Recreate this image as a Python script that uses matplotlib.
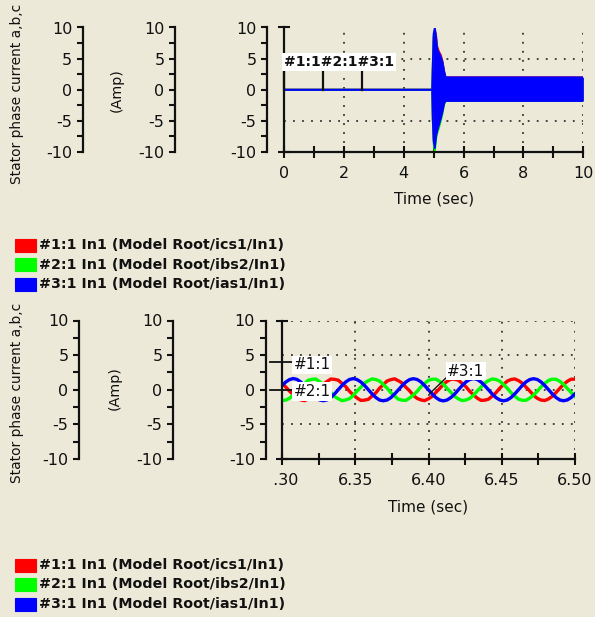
import numpy as np
import matplotlib
matplotlib.use("Agg")
import matplotlib.pyplot as plt
from matplotlib.patches import Rectangle
from matplotlib.transforms import Bbox, TransformedBbox, ScaledTranslation

# ---------------------------------------------------------------- data
phase_labels = ["#1:1 In1 (Model Root/ics1/In1)",
                "#2:1 In1 (Model Root/ibs2/In1)",
                "#3:1 In1 (Model Root/ias1/In1)"]
phase_colors = ["#FF0000", "#00FF00", "#0000FF"]

y_ticks = [-10, -5, 0, 5, 10]
y_tick_labels = ["-10", "-5", "0", "5", "10"]
y_minor = [-7.5, -2.5, 2.5, 7.5]
y_grid = [-5, 0, 5, 10]

# full run, 0 - 10 s: envelope (upper / lower) of each phase current
t_run = [0.0, 4.95, 4.97, 5.00, 5.04, 5.08, 5.12, 5.18, 5.24, 5.30, 5.35, 5.40, 10.0]
ics1_hi = [0, 0, 3.5, 8.5, 9.6, 8.9, 7.0, 6.1, 5.6, 4.5, 3.0, 2.0, 2.0]
ics1_lo = [0, 0, -4.5, -8.0, -9.2, -7.3, -6.4, -5.4, -4.4, -3.2, -2.1, -1.7, -1.7]
ibs2_hi = [0, 0, 4.3, 8.8, 9.6, 8.2, 6.3, 5.7, 5.1, 4.2, 2.8, 1.9, 1.9]
ibs2_lo = [0, 0, -5.0, -8.8, -10.0, -8.0, -7.0, -6.1, -5.0, -3.8, -2.4, -1.8, -1.8]
ias1_hi = [0, 0, 4.0, 9.0, 10.0, 8.5, 6.5, 5.9, 5.3, 4.4, 3.0, 2.0, 2.0]
ias1_lo = [0, 0, -4.8, -8.3, -9.4, -7.5, -6.6, -5.6, -4.6, -3.4, -2.2, -1.8, -1.8]
run_xticks = [0, 2, 4, 6, 8, 10]
run_xtick_labels = ["0", "2", "4", "6", "8", "10"]
run_xminor = [1, 3, 5, 7, 9]
run_markers = [0.0, 1.31, 2.62]

# zoomed window, 6.30 - 6.50 s, sampled every 2.5625 ms
zoom_t0, zoom_dt = 6.30, 0.0025625
ics1_zoom = [
    0.94, 0.40, -0.20,
    -0.72, -1.28, -1.46, -1.58, -1.30, -0.98, -0.36, 0.16, 0.82, 1.19, 1.55, 1.50, 1.38, 0.90, 0.44, -0.24,
    -0.75, -1.20, -1.54, -1.50, -1.38, -0.90, -0.44, 0.24, 0.74, 1.27, 1.46, 1.58, 1.30, 0.98, 0.36, -0.16,
    -0.82, -1.25, -1.47, -1.57, -1.31, -0.97, -0.38, 0.18, 0.80, 1.21, 1.53, 1.51, 1.37, 0.91, 0.43, -0.22,
    -0.74, -1.21, -1.53, -1.51, -1.36, -0.92, -0.42, 0.22, 0.76, 1.25, 1.48, 1.56, 1.32, 0.96, 0.38, -0.18,
    -0.80, -1.24, -1.49, -1.55, -1.33, -0.95, -0.39, 0.21, 0.77, 1.22, 1.52, 1.53,
]
ibs2_zoom = [
    -1.54, -1.50, -1.23,
    -0.74, -0.24, 0.44, 0.90, 1.38, 1.50, 1.55, 1.19, 0.82, 0.16, -0.36, -0.98, -1.30, -1.58, -1.46, -1.28,
    -0.80, -0.17, 0.37, 0.97, 1.31, 1.57, 1.47, 1.26, 0.75, 0.23, -0.43, -0.91, -1.37, -1.51, -1.53, -1.20,
    -0.76, -0.22, 0.42, 0.92, 1.36, 1.52, 1.53, 1.21, 0.80, 0.18, -0.38, -0.96, -1.32, -1.56, -1.48, -1.25,
    -0.81, -0.18, 0.38, 0.96, 1.32, 1.56, 1.48, 1.25, 0.76, 0.22, -0.42, -0.92, -1.36, -1.52, -1.52, -1.21,
    -0.77, -0.21, 0.41, 0.93, 1.35, 1.53, 1.51, 1.22, 0.79, 0.19, -0.39, -0.95,
]
ias1_zoom = [
    0.58, 1.12, 1.47,
    1.62, 1.49, 1.12, 0.60, -0.02, -0.62, -1.14, -1.47, -1.58, -1.46, -1.12, -0.60, 0.02, 0.63, 1.14, 1.49,
    1.61, 1.47, 1.13, 0.62, 0.01, -0.60, -1.12, -1.49, -1.59, -1.48, -1.14, -0.61, -0.01, 0.60, 1.12, 1.47,
    1.60, 1.48, 1.14, 0.61, 0.00, -0.61, -1.13, -1.48, -1.61, -1.47, -1.12, -0.62, 0.01, 0.61, 1.13, 1.48,
    1.61, 1.49, 1.12, 0.60, -0.01, -0.62, -1.13, -1.47, -1.60, -1.48, -1.13, -0.60, 0.00, 0.62, 1.14, 1.47,
    1.60, 1.48, 1.13, 0.61, 0.01, -0.60, -1.12, -1.48, -1.59, -1.47, -1.14, -0.61,
]
zoom_xticks = [6.30, 6.35, 6.40, 6.45, 6.50]
zoom_xtick_labels = ["6.30", "6.35", "6.40", "6.45", "6.50"]
zoom_xminor = [6.325, 6.375, 6.425, 6.475]
zoom_markers = {"#1:1": (6.2918, 4.0), "#2:1": (6.2918, 0.0), "#3:1": (6.401, -0.52)}

ylabel_text = "Stator phase current a,b,c"
unit_text = "(Amp)"
xlabel_text = "Time (sec)"

# ---------------------------------------------------------------- figure
W, H = 595, 617
BG = "#ECE9D8"
INK = "#111111"
plt.rcParams["font.family"] = ["DejaVu Sans"]
fig = plt.figure(figsize=(W / 100, H / 100), dpi=100, facecolor=BG)


def frac_rect(x0, y0, x1, y1):
    return [x0 / W, 1 - y1 / H, (x1 - x0) / W, (y1 - y0) / H]


def side_axis(x, y0, y1):
    a = fig.add_axes(frac_rect(x, y0, x + 4, y1))
    a.set_facecolor("none")
    for s in ("top", "right", "bottom"):
        a.spines[s].set_visible(False)
    a.spines["left"].set_linewidth(1.6)
    a.spines["left"].set_color(INK)
    a.set_ylim(-10, 10)
    a.set_yticks(y_ticks)
    a.set_yticklabels(y_tick_labels)
    a.set_yticks(y_minor, minor=True)
    a.set_xticks([])
    a.tick_params(axis="y", which="both", direction="out", length=4.5, width=1.5,
                  pad=3, labelsize=11.5, colors=INK)
    return a


def main_axis(x0, y0, x1, y1, xlim, xticks, xlabels, xminor):
    a = fig.add_axes(frac_rect(x0, y0, x1, y1))
    a.set_facecolor("none")
    for s in ("top", "right"):
        a.spines[s].set_visible(False)
    for s in ("left", "bottom"):
        a.spines[s].set_linewidth(1.6)
        a.spines[s].set_color(INK)
    a.set_xlim(*xlim)
    a.set_ylim(-10, 10)
    a.set_xticks(xticks)
    a.set_xticklabels(xlabels)
    a.set_xticks(xminor, minor=True)
    a.set_yticks([-10, 10])
    a.set_yticklabels([])
    a.tick_params(axis="both", which="both", direction="inout", length=8, width=1.5,
                  colors=INK, labelsize=11.5, pad=6)
    for v in y_grid:
        a.axhline(v, color="#333333", lw=1.3, ls=(0, (1, 4)), zorder=0.5)
    for v in xticks[1:]:
        a.axvline(v, color="#333333", lw=1.3, ls=(0, (1, 4)), zorder=0.5)
    a.set_xlabel(xlabel_text, fontsize=11, color=INK, labelpad=8)
    return a


def legend_block(y_rows):
    for lbl, col, yc in zip(phase_labels, phase_colors, y_rows):
        fig.patches.append(Rectangle((15 / W, 1 - (yc + 6.5) / H), 21 / W, 13 / H,
                                     transform=fig.transFigure, facecolor=col,
                                     edgecolor=col, lw=0.8))
        fig.text(39 / W, 1 - yc / H, lbl, ha="left", va="center", fontsize=10.3,
                 fontweight="bold", color=INK)


def ylabels(y_bottom, y_clip_top, unit_y, unit_x):
    t = fig.text(17 / W, 1 - y_bottom / H, ylabel_text, rotation=90, ha="center",
                 va="bottom", fontsize=9.9, color=INK)
    clip = TransformedBbox(Bbox.from_extents(0, 0, 60 / W, 1 - y_clip_top / H), fig.transFigure)
    t.set_clip_box(clip)
    t.set_clip_on(True)
    fig.text(unit_x / W, 1 - unit_y / H, unit_text, rotation=90, ha="center", va="center",
             fontsize=10.3, color=INK)


# ---------------------------------------------------------------- top panel (0 - 10 s)
for x in (82.7, 175, 267):
    side_axis(x, 27.5, 152)
ax1 = main_axis(284, 27.5, 583.3, 152, (0, 10), run_xticks, run_xtick_labels, run_xminor)
envelopes = [(ics1_hi, ics1_lo), (ibs2_hi, ibs2_lo), (ias1_hi, ias1_lo)]
for (hi, lo), col in zip(envelopes, phase_colors):
    ax1.fill_between(t_run, lo, hi, color=col, lw=0, zorder=2)
    ax1.plot(t_run, hi, color=col, lw=1.3, zorder=2)
    ax1.plot(t_run, lo, color=col, lw=1.3, zorder=2)
ax1.text(0.0, 4.4, "#1:1#2:1#3:1", ha="left", va="center", fontsize=10, fontweight="bold",
         color=INK, zorder=5, clip_on=False,
         bbox=dict(facecolor="white", edgecolor="none", pad=1.5))
for tm in run_markers:
    ax1.plot([tm, tm], [0, 3.2], color=INK, lw=1.6, zorder=4, clip_on=False)
ylabels(184, -5, 90, 117)

# ---------------------------------------------------------------- legend 1
legend_block([245, 264.5, 284])

# ---------------------------------------------------------------- bottom panel (6.30 - 6.50 s)
for x in (79, 173, 265.5):
    side_axis(x, 320.5, 459)
shown = ["" if i == 0 else s for i, s in enumerate(zoom_xtick_labels)]
ax2 = main_axis(282, 320.5, 575, 459, (6.30, 6.50), zoom_xticks, shown, zoom_xminor)
t_zoom = zoom_t0 + zoom_dt * np.arange(len(ias1_zoom))
for ys, col in zip([ics1_zoom, ibs2_zoom, ias1_zoom], phase_colors):
    ax2.plot(t_zoom, ys, color=col, lw=2.4, zorder=2, solid_joinstyle="round")

# first tick label is partly covered by the neighbouring scale
first = ax2.text(zoom_xticks[0], -10, zoom_xtick_labels[0], ha="center", va="top",
                 fontsize=11.5, color=INK,
                 transform=ax2.transData + ScaledTranslation(0, -10 / 72, fig.dpi_scale_trans))
first.set_clip_box(TransformedBbox(Bbox.from_extents(274 / W, 0, 1, 1), fig.transFigure))
first.set_clip_on(True)

for name, (tx, ty) in zoom_markers.items():
    if name == "#3:1":
        ax2.plot([tx, 6.4124], [ty, 1.8], color=INK, lw=1.0, zorder=4)
        ax2.text(6.4128, 2.7, name, ha="left", va="center", fontsize=11, color=INK, zorder=5,
                 bbox=dict(facecolor="white", edgecolor="none", pad=1.2))
    else:
        ax2.plot([tx, 6.3075], [ty, ty], color=INK, lw=1.3, zorder=4, clip_on=False)
        ax2.text(6.3078, ty - 0.4 if name == "#1:1" else ty - 0.26, name, ha="left",
                 va="center", fontsize=11, color=INK, zorder=5, clip_on=False,
                 bbox=dict(facecolor="white", edgecolor="none", pad=1.2))
ylabels(483, 298, 388, 115)

# ---------------------------------------------------------------- legend 2
legend_block([565, 584.5, 604])

fig.savefig("out.png", dpi=100, facecolor=BG)
